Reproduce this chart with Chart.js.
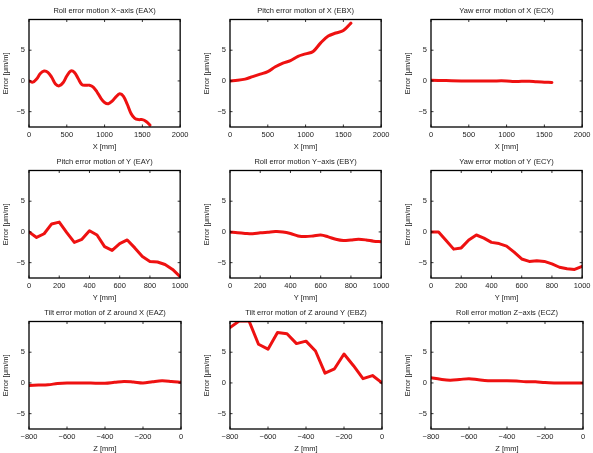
<!DOCTYPE html>
<html>
<head>
<meta charset="utf-8">
<script src="https://cdn.jsdelivr.net/npm/chart.js@4.4.1/dist/chart.umd.min.js"></script>
<style>
  body { margin: 0; background: #fff; width: 593px; height: 453px; position: relative; overflow: hidden; }
  canvas { position: absolute; }
</style>
</head>
<body>
<script>
// Tick labels
const xTicksX = [0, 500, 1000, 1500, 2000];
const xTicksY = [0, 200, 400, 600, 800, 1000];
const xTicksZ = [-800, -600, -400, -200, 0];
const yTicks = [-5, 0, 5];
const yMin = -7.5;
const yMax = 10;

// X axis errors [um/m] vs position [mm]
const eaxPos = [0, 50, 100, 150, 200, 250, 300, 350, 400, 450, 500, 550, 600, 650, 700, 750, 800, 850, 900, 950, 1000, 1050, 1100, 1150, 1200, 1250, 1300, 1350, 1400, 1450, 1500, 1550, 1600];
const eaxErr = [0, -0.2, 0.3, 1.2, 1.6, 1.4, 0.6, -0.5, -0.8, -0.3, 0.8, 1.6, 1.4, 0.4, -0.6, -0.7, -0.7, -1.0, -1.8, -2.8, -3.5, -3.7, -3.3, -2.6, -2.1, -2.5, -3.8, -5.3, -6.1, -6.3, -6.3, -6.6, -7.2];
const ebxPos = [0, 100, 200, 300, 400, 500, 600, 700, 800, 900, 1000, 1100, 1200, 1300, 1400, 1500, 1600];
const ebxErr = [0, 0.1, 0.3, 0.7, 1.1, 1.5, 2.3, 2.9, 3.3, 4.0, 4.4, 4.8, 6.2, 7.3, 7.8, 8.2, 9.4];
const ecxPos = [0, 200, 400, 600, 800, 1000, 1100, 1200, 1300, 1400, 1500, 1600];
const ecxErr = [0.1, 0.05, 0, 0, 0, 0, -0.1, -0.05, -0.05, -0.15, -0.2, -0.25];

// Y axis errors
const yPos = [0, 50, 100, 150, 200, 250, 300, 350, 400, 450, 500, 550, 600, 650, 700, 750, 800, 850, 900, 950, 1000];
const eayErr = [0, -0.9, -0.3, 1.3, 1.6, -0.1, -1.7, -1.2, 0.2, -0.5, -2.4, -3.0, -1.9, -1.3, -2.6, -4.0, -4.8, -4.9, -5.3, -6.1, -7.3];
const ebyErr = [0, -0.15, -0.25, -0.3, -0.15, -0.05, 0.05, 0, -0.25, -0.65, -0.75, -0.65, -0.5, -0.8, -1.2, -1.4, -1.3, -1.2, -1.3, -1.5, -1.6];
const ecyErr = [0, 0, -1.4, -2.8, -2.6, -1.3, -0.5, -1.0, -1.7, -1.9, -2.3, -3.3, -4.4, -4.8, -4.7, -4.8, -5.2, -5.75, -6.0, -6.1, -5.6];

// Z axis errors
const zPos = [-800, -750, -700, -650, -600, -550, -500, -450, -400, -350, -300, -250, -200, -150, -100, -50, 0];
const eazErr = [-0.4, -0.35, -0.3, -0.1, 0, 0, 0, -0.05, -0.05, 0.1, 0.25, 0.15, 0, 0.2, 0.35, 0.25, 0.1];
const ebzErr = [9.0, 10.1, 10.1, 6.3, 5.5, 8.2, 8.0, 6.4, 6.8, 5.2, 1.6, 2.3, 4.7, 2.8, 0.7, 1.2, 0];
const eczErr = [0.85, 0.6, 0.45, 0.55, 0.7, 0.5, 0.35, 0.35, 0.35, 0.3, 0.2, 0.2, 0.05, 0, 0, 0, 0];

const titles = [
  'Roll error motion X\u2212axis (EAX)', 'Pitch error motion of X (EBX)', 'Yaw error motion of X (ECX)',
  'Pitch error motion of Y (EAY)', 'Roll error motion Y\u2212axis (EBY)', 'Yaw error motion of Y (ECY)',
  'Tilt error motion of Z around X (EAZ)', 'Tilt error motion of Z around Y (EBZ)', 'Roll error motion Z\u2212axis (ECZ)'
];

const panels = [
  { pos: eaxPos, err: eaxErr, ticks: xTicksX, label: 'X [mm]', smooth: true },
  { pos: ebxPos, err: ebxErr, ticks: xTicksX, label: 'X [mm]', smooth: true },
  { pos: ecxPos, err: ecxErr, ticks: xTicksX, label: 'X [mm]', smooth: true },
  { pos: yPos, err: eayErr, ticks: xTicksY, label: 'Y [mm]', smooth: false },
  { pos: yPos, err: ebyErr, ticks: xTicksY, label: 'Y [mm]', smooth: true },
  { pos: yPos, err: ecyErr, ticks: xTicksY, label: 'Y [mm]', smooth: false },
  { pos: zPos, err: eazErr, ticks: xTicksZ, label: 'Z [mm]', smooth: true },
  { pos: zPos, err: ebzErr, ticks: xTicksZ, label: 'Z [mm]', smooth: false },
  { pos: zPos, err: eczErr, ticks: xTicksZ, label: 'Z [mm]', smooth: true }
];

const colLeft = [0, 201, 402];
const rowTop = [0, 151, 302];
const canvasW = 192;
const canvasH = 152;
const fontFamily = '"Liberation Sans", Arial, Helvetica, sans-serif';
const textColor = '#222';

const minus = v => String(v).replace('-', '\u2212');

// matlab style box with inward ticks, title centred over the axes
const boxPlugin = {
  id: 'box',
  afterDatasetsDraw(chart) {
    const { ctx, chartArea: a, scales } = chart;
    const tl = 2.5;
    ctx.save();
    ctx.strokeStyle = '#000';
    ctx.lineWidth = 1.3;
    ctx.strokeRect(a.left, a.top, a.right - a.left, a.bottom - a.top);
    ctx.lineWidth = 0.8;
    ctx.beginPath();
    scales.x.ticks.forEach(t => {
      const px = scales.x.getPixelForValue(t.value);
      ctx.moveTo(px, a.bottom); ctx.lineTo(px, a.bottom - tl);
      ctx.moveTo(px, a.top); ctx.lineTo(px, a.top + tl);
    });
    scales.y.ticks.forEach(t => {
      const py = scales.y.getPixelForValue(t.value);
      ctx.moveTo(a.left, py); ctx.lineTo(a.left + tl, py);
      ctx.moveTo(a.right, py); ctx.lineTo(a.right - tl, py);
    });
    ctx.stroke();

    ctx.fillStyle = textColor;
    ctx.font = '7.5px ' + fontFamily;
    ctx.textAlign = 'center';
    ctx.textBaseline = 'middle';
    ctx.fillText(chart.options.panelTitle, (a.left + a.right) / 2, 10.5);
    ctx.restore();
  }
};

panels.forEach((p, i) => {
  const canvas = document.createElement('canvas');
  canvas.width = canvasW;
  canvas.height = canvasH;
  canvas.style.left = colLeft[i % 3] + 'px';
  canvas.style.top = rowTop[Math.floor(i / 3)] + 'px';
  document.body.appendChild(canvas);

  new Chart(canvas, {
    type: 'line',
    data: {
      datasets: [{
        data: p.pos.map((x, k) => ({ x: x, y: p.err[k] })),
        borderColor: '#ee1111',
        borderWidth: 3,
        pointRadius: 0,
        tension: p.smooth ? 0.35 : 0,
        borderJoinStyle: 'round',
        borderCapStyle: 'round',
        clip: 0
      }]
    },
    options: {
      panelTitle: titles[i],
      responsive: false,
      animation: false,
      layout: { padding: { left: 0, right: canvasW - 29 - 152, top: 19.5, bottom: 0 } },
      plugins: {
        legend: { display: false },
        tooltip: { enabled: false },
        title: { display: false }
      },
      scales: {
        x: {
          type: 'linear',
          min: p.ticks[0],
          max: p.ticks[p.ticks.length - 1],
          afterBuildTicks: s => { s.ticks = p.ticks.map(v => ({ value: v })); },
          afterFit: s => { s.height = canvasH - 19.5 - 107.5; },
          grid: { display: false, drawTicks: false },
          border: { display: false },
          ticks: { color: textColor, padding: 3.5, maxRotation: 0, font: { family: fontFamily, size: 7.5 }, callback: v => minus(v) },
          title: { display: true, text: p.label, color: textColor, padding: { top: 0, bottom: 0.5 }, font: { family: fontFamily, size: 7.5, lineHeight: 1.2 } }
        },
        y: {
          min: yMin,
          max: yMax,
          afterBuildTicks: s => { s.ticks = yTicks.map(v => ({ value: v })); },
          afterFit: s => { s.width = 29; },
          grid: { display: false, drawTicks: false },
          border: { display: false },
          ticks: { color: textColor, padding: 4, font: { family: fontFamily, size: 7.5 }, callback: v => minus(v) },
          title: { display: true, text: 'Error [\u03bcm/m]', color: textColor, padding: { top: 1.5, bottom: 0 }, font: { family: fontFamily, size: 7.5, lineHeight: 1.2 } }
        }
      }
    },
    plugins: [boxPlugin]
  });
});
</script>
</body>
</html>
